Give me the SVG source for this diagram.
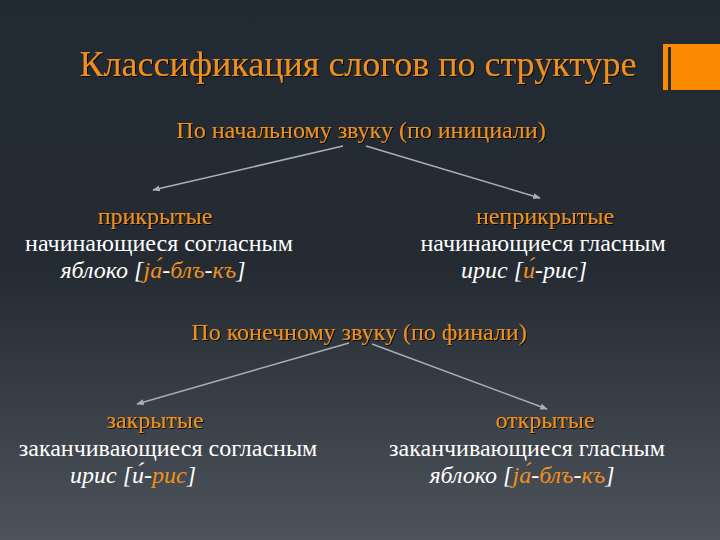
<svg xmlns="http://www.w3.org/2000/svg" width="720" height="540" viewBox="0 0 720 540">
<defs>
<linearGradient id="bg" x1="0" y1="0" x2="0" y2="1">
<stop offset="0" stop-color="#222a33"/>
<stop offset="0.5" stop-color="#242b33"/>
<stop offset="1" stop-color="#4d535a"/>
</linearGradient>
<marker id="ah" viewBox="0 0 10 10" refX="9" refY="5" markerWidth="5" markerHeight="5" orient="auto">
<path d="M0,1 L10,5 L0,9 z" fill="#a9b0b8"/>
</marker>
<filter id="sh" x="-5%" y="-20%" width="110%" height="140%">
<feDropShadow dx="1" dy="1" stdDeviation="0.6" flood-color="#000" flood-opacity="0.8"/>
</filter>
</defs>
<style>
text{font-family:"Liberation Serif","Times New Roman",serif;}
.t{font-size:36px;fill:#f0901e;filter:url(#sh);}
.h{font-size:24px;fill:#f0901e;filter:url(#sh);}
.w{font-size:24px;fill:#ffffff;}
.i{font-size:24px;fill:#ffffff;font-style:italic;}
.o{fill:#f0901e;}
.c{stroke:#a9b0b8;stroke-width:1.5;fill:none;marker-end:url(#ah);}
</style>
<rect width="720" height="540" fill="url(#bg)"/>
<g id="accent">
<rect x="663" y="44" width="57" height="46" fill="#fb8a00"/>
<rect x="668" y="47" width="3" height="43" fill="#2a2a2a"/>
</g>
<g id="title"><text class="t" x="358" y="76" text-anchor="middle">Классификация слогов по структуре</text></g>
<g id="initial"><text class="h" x="361" y="138" text-anchor="middle">По начальному звуку (по инициали)</text></g>
<g id="covered">
<text class="h" x="155" y="224" text-anchor="middle">прикрытые</text>
<text class="w" x="159" y="251" text-anchor="middle">начинающиеся согласным</text>
<text class="i" x="153" y="278" text-anchor="middle">яблоко [<tspan class="o">ја́</tspan>-<tspan class="o">блъ</tspan>-<tspan class="o">къ</tspan>]</text>
</g>
<g id="uncovered">
<text class="h" x="545" y="224" text-anchor="middle">неприкрытые</text>
<text class="w" x="543" y="251" text-anchor="middle">начинающиеся гласным</text>
<text class="i" x="524" y="278" text-anchor="middle">ирис [<tspan class="o">и́</tspan>-рис]</text>
</g>
<g id="final"><text class="h" x="359" y="340" text-anchor="middle">По конечному звуку (по финали)</text></g>
<g id="closed">
<text class="h" x="155" y="428" text-anchor="middle">закрытые</text>
<text class="w" x="168" y="456" text-anchor="middle">заканчивающиеся согласным</text>
<text class="i" x="133" y="483" text-anchor="middle">ирис [и́-<tspan class="o">рис</tspan>]</text>
</g>
<g id="open">
<text class="h" x="545" y="428" text-anchor="middle">открытые</text>
<text class="w" x="527" y="456" text-anchor="middle">заканчивающиеся гласным</text>
<text class="i" x="522" y="483" text-anchor="middle">яблоко [<tspan class="o">ја́</tspan>-<tspan class="o">блъ</tspan>-<tspan class="o">къ</tspan>]</text>
</g>
<g id="connectors">
<line class="c" x1="343" y1="146" x2="153" y2="190"/>
<line class="c" x1="366" y1="146" x2="540" y2="198"/>
<line class="c" x1="349" y1="343" x2="137" y2="404"/>
<line class="c" x1="372" y1="344" x2="547" y2="409"/>
</g>
</svg>
